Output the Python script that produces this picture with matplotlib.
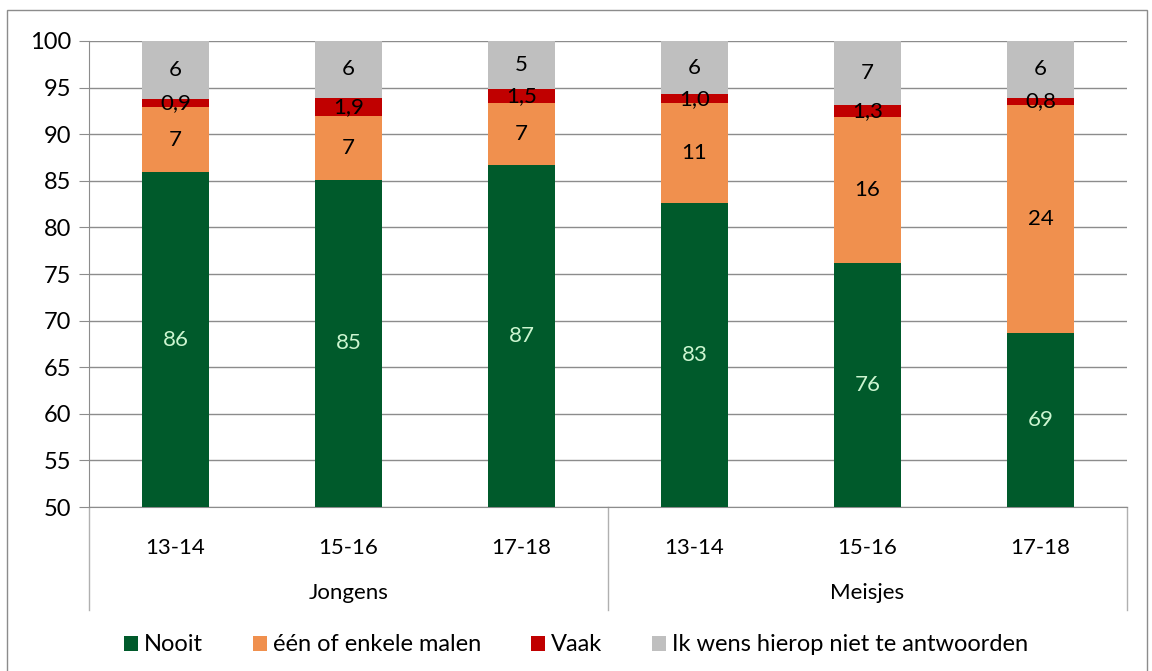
import numpy as np
import matplotlib.pyplot as plt
from matplotlib.patches import Rectangle

plt.rcParams['font.family'] = ['Lato', 'DejaVu Sans']

# data
leeftijd = ['13-14', '15-16', '17-18', '13-14', '15-16', '17-18']
groepen = ['Jongens', 'Meisjes']
nooit = [85.9, 85.1, 86.7, 82.6, 76.2, 68.7]
enkele = [7.0, 6.9, 6.6, 10.7, 15.6, 24.4]
vaak = [0.9, 1.9, 1.5, 1.0, 1.3, 0.8]
geen_antw = [6.2, 6.1, 5.2, 5.7, 6.9, 6.1]

series = [
    ('Nooit', nooit, '#005a2b', '#ccf5d0', 0),
    ('één of enkele malen', enkele, '#f0904e', 'black', 0),
    ('Vaak', vaak, '#c00000', 'black', 1),
    ('Ik wens hierop niet te antwoorden', geen_antw, '#bfbfbf', 'black', 0),
]

FS = 16

fig = plt.figure(figsize=(11.52, 6.71), dpi=100)
ax = fig.add_axes([0.0773, 0.2444, 0.9010, 0.6945])

x = np.arange(len(leeftijd))
bottom = np.zeros(len(x))
handles = []
for naam, vals, kleur, tkleur, decimaal in series:
    vals = np.array(vals)
    b = ax.bar(x, vals, width=0.39, bottom=bottom, color=kleur, label=naam, zorder=3)
    handles.append(b)
    for xi, bo, v in zip(x, bottom, vals):
        if decimaal:
            txt = f'{v:.1f}'.replace('.', ',')
        else:
            txt = f'{v:.0f}'
        # label in het midden van het zichtbare deel
        yc = (max(bo, 50) + bo + v) / 2
        ax.text(xi, yc, txt, ha='center', va='center', color=tkleur,
                fontsize=FS, zorder=4)
    bottom = bottom + vals

ax.set_ylim(50, 100)
ax.set_xlim(-0.5, 5.5)
ax.set_yticks(np.arange(50, 101, 5))
ax.yaxis.grid(True, color='#8c8c8c', linewidth=1, zorder=0)
ax.tick_params(axis='y', labelsize=17, length=7, color='#8c8c8c', pad=6)
ax.set_xticks(x)
ax.set_xticklabels(leeftijd, fontsize=FS)
ax.tick_params(axis='x', length=0, pad=22)
for s in ['top', 'right']:
    ax.spines[s].set_visible(False)
ax.spines['left'].set_color('#8c8c8c')
ax.spines['bottom'].set_color('#8c8c8c')

# group separators and group labels
tr = ax.get_xaxis_transform()
for xs in [-0.5, 2.5, 5.5]:
    ax.plot([xs, xs], [0, -0.221], transform=tr, color='#b0b0b0',
            linewidth=1, clip_on=False)
for gi, g in enumerate(groepen):
    ax.text(1 + 3 * gi, -0.1845, g, transform=tr, ha='center', va='center', fontsize=FS)

fig.legend(handles=handles, loc='center', bbox_to_anchor=(0.5, 0.039), ncol=4,
           frameon=False, fontsize=17, handlelength=0.6, handleheight=0.6,
           handletextpad=0.25, columnspacing=2.1)

# outer chart border
fig.patches.append(Rectangle((7 / 1152, -0.01), 1140 / 1152, 1 - 10 / 671 + 0.01,
                             transform=fig.transFigure, fill=False,
                             edgecolor='#8c8c8c', linewidth=1))

fig.savefig('out.png', dpi=100)
